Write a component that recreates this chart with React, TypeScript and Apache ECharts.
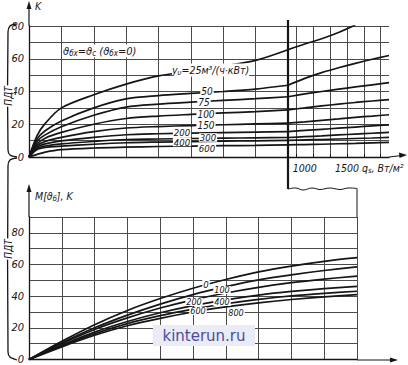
import React, { useEffect, useRef } from "react";
import * as echarts from "echarts";

// ---------- data ----------
// upper chart, left panel (q_s, W/m², 0..800)
const qTopLeft = [0, 25, 50, 100, 200, 300, 400, 500, 600, 700, 800];
const yu25L = [0, 13, 20.5, 30, 38, 44.5, 49.5, 52.5, 55.5, 59, 65.5];
const yu50L = [0, 11, 16, 22, 30, 35.5, 37.5, 38.8, 40, 41.5, 43.8];
const yu75L = [0, 9.5, 13.5, 18.5, 25.5, 30.5, 32.3, 33.5, 34.6, 35.6, 36.8];
const yu100L = [0, 8, 11.5, 15, 20, 23.5, 25, 26, 26.9, 27.7, 28.8];
const yu150L = [0, 7, 9.5, 12, 15.5, 17.7, 18.6, 19.2, 19.7, 20.2, 20.7];
const yu200L = [0, 6, 8, 9.8, 12, 13.6, 14.2, 14.6, 14.9, 15.2, 15.5];
const yu300L = [0, 5.2, 6.7, 8, 9.5, 10.7, 11, 11.3, 11.5, 11.7, 11.9];
const yu400L = [0, 4.5, 5.8, 6.6, 7.8, 8.7, 9.1, 9.4, 9.7, 9.9, 10.1];
const yu600L = [0, 1.6, 3, 4.5, 5.5, 6, 6.4, 6.7, 6.9, 7.1, 7.4];

// upper chart, right panel (q_s 800..2000)
const qTopRight = [800, 1000, 1200, 1400, 1600, 1800, 2000];
const yu25R = [65.5, 69, 72.2, 76, 80.6, null, null];
const yu50R = [43.8, 48, 51.5, 54.5, 57.2, 59.7, 62];
const yu75R = [36.8, 38.5, 40, 41.4, 42.8, 44.1, 45.4];
const yu100R = [28.8, 30, 31.2, 32.3, 33.3, 34.2, 35];
const yu150R = [20.7, 21.5, 22.4, 23.3, 24.2, 25, 25.8];
const yu200R = [15.5, 16.2, 16.9, 17.6, 18.3, 19, 19.6];
const yu300R = [11.9, 12.4, 12.9, 13.5, 14, 14.5, 15];
const yu400R = [10.1, 10.4, 10.7, 11, 11.3, 11.6, 12];
const yu600R = [7.4, 7.6, 7.8, 8.1, 8.3, 8.6, 8.9];

const topLeftSets = [yu25L, yu50L, yu75L, yu100L, yu150L, yu200L, yu300L, yu400L, yu600L];
const topRightSets = [yu25R, yu50R, yu75R, yu100R, yu150R, yu200R, yu300R, yu400R, yu600R];
const yuNames = ["25", "50", "75", "100", "150", "200", "300", "400", "600"];

// lower chart M[ϑб]
const qBottom = [0, 100, 200, 300, 400, 500, 600, 700, 800, 900, 1000];
const m0 = [0, 11.5, 22, 31, 38.5, 45, 50.5, 55.3, 59, 62, 64.3];
const m100 = [0, 10.5, 20, 28, 35, 41, 46, 50.3, 53.5, 56.2, 58.5];
const m200 = [0, 10, 19, 26.3, 32.5, 37.7, 42, 45.6, 48.5, 50.8, 52.7];
const m400 = [0, 9, 17.3, 24, 29.5, 34, 37.7, 40.7, 43, 44.8, 46.2];
const m600 = [0, 8.5, 16.3, 22.7, 27.7, 31.8, 35.2, 38, 40.2, 41.8, 43.1];
const m800 = [0, 8, 15.3, 21.3, 26, 30, 33.2, 35.8, 37.9, 39.6, 41];
const bottomSets = [m0, m100, m200, m400, m600, m800];
const bottomNames = ["0", "100", "200", "400", "600", "800"];

const yTickLabels = [0, 20, 40, 60, 80];
const xRightLabels = [1000, 1500];

// ---------- styles ----------
const FONT = "'Liberation Sans Narrow', 'DejaVu Sans Condensed', 'DejaVu Sans', sans-serif";
const INK = "#151515";
const GRIDC = "#4a4a4a";

function pairs(xs: number[], ys: (number | null)[]) {
  const out: number[][] = [];
  xs.forEach((x, i) => {
    const v = ys[i];
    if (v !== null && v !== undefined) out.push([x, v]);
  });
  return out;
}

function curve(name: string, data: number[][], xi: number, yi: number) {
  return {
    type: "line",
    name,
    data,
    xAxisIndex: xi,
    yAxisIndex: yi,
    smooth: 0.3,
    showSymbol: false,
    symbol: "none",
    clip: true,
    lineStyle: { color: INK, width: 1.7 },
    silent: true,
  };
}

function lbl(text: string, x: number, y: number, size = 10, bg = true) {
  return {
    type: "text",
    z: 100,
    style: {
      text,
      x,
      y,
      align: "center",
      verticalAlign: "middle",
      fill: INK,
      fontFamily: FONT,
      fontStyle: "italic",
      fontSize: size,
      backgroundColor: bg ? "#fff" : "transparent",
      padding: [0, 1],
      lineHeight: size - 1,
    },
  };
}

function richText(parts: [string, boolean][], x: number, y: number, size = 10.5, align = "left") {
  const text = parts.map(([t, sub]) => (sub ? `{s|${t}}` : `{a|${t}}`)).join("");
  return {
    type: "text",
    z: 100,
    style: {
      text,
      x,
      y,
      align,
      verticalAlign: "middle",
      fill: INK,
      backgroundColor: "#fff",
      rich: {
        a: { fontFamily: FONT, fontStyle: "italic", fontSize: size, fill: INK },
        s: { fontFamily: FONT, fontStyle: "italic", fontSize: size - 3, fill: INK, padding: [5, 0, 0, 0] },
      },
    },
  };
}

const lineEl = (x1: number, y1: number, x2: number, y2: number, w = 1.2) => ({
  type: "line",
  z: 90,
  shape: { x1, y1, x2, y2 },
  style: { stroke: INK, lineWidth: w },
});

const arrowEl = (pts: number[][]) => ({
  type: "polygon",
  z: 90,
  shape: { points: pts },
  style: { fill: INK },
});

export default function App() {
  const ref = useRef<HTMLDivElement>(null);

  useEffect(() => {
    if (!ref.current) return;
    const chart = echarts.init(ref.current, null, { renderer: "svg" });

    const yLabelFmt = (v: number) => (yTickLabels.includes(v) ? String(v) : "");
    const splitStyle = { show: true, lineStyle: { color: GRIDC, width: 1 } };
    const axisLineStyle = { show: true, lineStyle: { color: INK, width: 1.3 } };
    const yLabelStyle = {
      show: true,
      formatter: yLabelFmt,
      color: INK,
      fontFamily: FONT,
      fontStyle: "italic",
      fontSize: 11,
      margin: 5,
    };

    const series: any[] = [];
    topLeftSets.forEach((s, i) => series.push(curve("L" + yuNames[i], pairs(qTopLeft, s), 0, 0)));
    topRightSets.forEach((s, i) => series.push(curve("R" + yuNames[i], pairs(qTopRight, s), 1, 1)));
    bottomSets.forEach((s, i) => series.push(curve("B" + bottomNames[i], pairs(qBottom, s), 2, 2)));

    const option: any = {
      animation: false,
      backgroundColor: "#ffffff",
      grid: [
        { left: 29, top: 26, width: 259, height: 131 },
        { left: 288, top: 26, width: 101, height: 131 },
        { left: 29, top: 217, width: 328, height: 143 },
      ],
      xAxis: [
        {
          type: "value", gridIndex: 0, min: 0, max: 800, interval: 100,
          axisLine: axisLineStyle, axisTick: { show: false }, axisLabel: { show: false },
          splitLine: splitStyle,
        },
        {
          type: "value", gridIndex: 1, min: 800, max: 2000, interval: 200,
          axisLine: axisLineStyle,
          axisTick: { show: true, inside: true, length: 3, customValues: [900, 1100, 1300, 1500, 1700, 1900], lineStyle: { color: INK } },
          axisLabel: {
            show: true, customValues: xRightLabels, color: INK, fontFamily: FONT,
            fontStyle: "italic", fontSize: 10.5, margin: 5,
            formatter: (v: number) => String(v),
          },
          splitLine: splitStyle,
        },
        {
          type: "value", gridIndex: 2, min: 0, max: 1000, interval: 100,
          axisLine: axisLineStyle, axisTick: { show: false }, axisLabel: { show: false },
          splitLine: splitStyle,
        },
      ],
      yAxis: [
        {
          type: "value", gridIndex: 0, min: 0, max: 80, interval: 10,
          axisLine: axisLineStyle, axisTick: { show: false }, axisLabel: yLabelStyle,
          splitLine: splitStyle,
        },
        {
          type: "value", gridIndex: 1, min: 0, max: 80, interval: 10,
          axisLine: { show: false }, axisTick: { show: false }, axisLabel: { show: false },
          splitLine: splitStyle,
        },
        {
          type: "value", gridIndex: 2, min: 0, max: 90, interval: 10,
          axisLine: axisLineStyle, axisTick: { show: false }, axisLabel: yLabelStyle,
          splitLine: splitStyle,
        },
      ],
      series,
      graphic: [
        // axis extensions with arrows
        lineEl(29, 26, 29, 6),
        arrowEl([[29, 1], [26.5, 9], [31.5, 9]]),
        lineEl(389, 157, 402, 155.5),
        arrowEl([[407, 155], [399, 152.5], [399.5, 158]]),
        lineEl(29, 217, 29, 190),
        arrowEl([[29, 184], [26.5, 192], [31.5, 192]]),
        lineEl(357, 360, 392, 360),
        arrowEl([[398, 360], [390, 357.5], [390, 362.5]]),
        // break line and torn paper edge
        lineEl(288, 20, 288, 189, 2.2),
        {
          type: "polyline",
          z: 90,
          shape: {
            points: [[288, 189], [296, 188], [303, 190], [312, 188], [320, 189.5], [330, 188], [340, 189.5], [348, 188], [357, 188.5]],
            smooth: 0.4,
          },
          style: { stroke: INK, lineWidth: 1, fill: "none" },
        },
        lineEl(357, 188.5, 357, 217, 1),
        // braces on the left
        {
          type: "polyline",
          z: 90,
          shape: { points: [[16, 24], [10, 26], [8, 32], [8, 150], [10, 155], [17, 157]], smooth: 0.3 },
          style: { stroke: INK, lineWidth: 1.3, fill: "none" },
        },
        {
          type: "polyline",
          z: 90,
          shape: { points: [[17, 158], [10, 160], [8, 166], [8, 352], [10, 357], [17, 360]], smooth: 0.3 },
          style: { stroke: INK, lineWidth: 1.3, fill: "none" },
        },
        {
          type: "text", z: 100, x: 8, y: 96, rotation: Math.PI / 2,
          style: {
            text: "ПДТ", x: 0, y: 0, align: "center", verticalAlign: "middle", fill: INK,
            fontFamily: FONT, fontStyle: "italic", fontSize: 10, backgroundColor: "#fff", padding: [1, 1],
          },
        },
        {
          type: "text", z: 100, x: 8, y: 249, rotation: Math.PI / 2,
          style: {
            text: "ПДТ", x: 0, y: 0, align: "center", verticalAlign: "middle", fill: INK,
            fontFamily: FONT, fontStyle: "italic", fontSize: 10, backgroundColor: "#fff", padding: [1, 1],
          },
        },
        // axis titles
        lbl("K", 38, 6, 10.5, false),
        richText([["M[ϑ", false], ["б", true], ["], K", false]], 35, 196, 10.5),
        richText([["q", false], ["s", true], [", Вт/м²", false]], 362, 168, 10.5),
        // annotations
        richText([["ϑ", false], ["бх", true], ["=ϑ", false], ["с", true], [" (ϑ", false], ["бх", true], ["=0)", false]], 63, 51, 11),
        richText([["y", false], ["υ", true], ["=25м³/(ч·кВт)", false]], 172, 70, 10.5),
        // top curve labels
        lbl("50", 207, 91),
        lbl("75", 204, 102),
        lbl("100", 206, 114),
        lbl("150", 206, 125),
        lbl("200", 182, 132, 9.5),
        lbl("300", 208, 137.5, 9.5),
        lbl("400", 182, 142, 9.5),
        lbl("600", 207, 148, 9.5),
        // bottom curve labels
        lbl("0", 206, 284, 9.5),
        lbl("100", 222, 290, 9),
        lbl("200", 194, 302, 9),
        lbl("400", 222, 302, 9),
        lbl("600", 198, 311, 9),
        lbl("800", 236, 313, 9),
        // watermark
        {
          type: "rect", z: 110,
          shape: { x: 153, y: 325, width: 102, height: 21 },
          style: { fill: "#ebebf6" },
        },
        {
          type: "text", z: 111,
          style: {
            text: "kinterun.ru", x: 204, y: 336, align: "center", verticalAlign: "middle",
            fill: "#4a4aa2", fontFamily: "'DejaVu Sans', sans-serif", fontSize: 15,
          },
        },
      ],
    };

    chart.setOption(option);
    return () => chart.dispose();
  }, []);

  return (
    <div
      ref={ref}
      style={{ position: "fixed", left: 0, top: 0, width: 408, height: 365, background: "#fff" }}
    />
  );
}
